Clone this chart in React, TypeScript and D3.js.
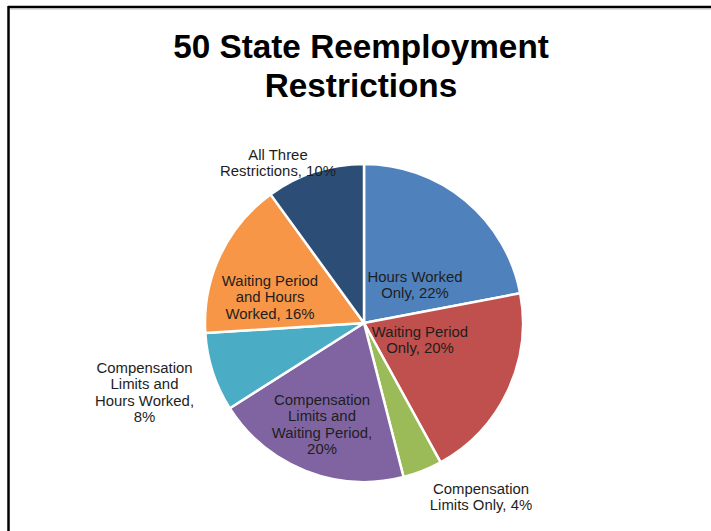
import React from "react";
import * as d3 from "d3";

const categories = [
  ["Hours Worked", "Only, 22%"],
  ["Waiting Period", "Only, 20%"],
  ["Compensation", "Limits Only, 4%"],
  ["Compensation", "Limits and", "Waiting Period,", "20%"],
  ["Compensation", "Limits and", "Hours Worked,", "8%"],
  ["Waiting Period", "and Hours", "Worked, 16%"],
  ["All Three", "Restrictions, 10%"],
];
const values = [22, 20, 4, 20, 8, 16, 10];
const colors = ["#4F81BD", "#C0504D", "#9BBB59", "#8064A2", "#4BACC6", "#F79646", "#2C4D75"];
const titleLines = ["50 State Reemployment", "Restrictions"];

// label anchor offsets relative to pie centre (layout only): [dx, first-baseline dy]
const labelOffsets: [number, number][] = [
  [51, -41],
  [56, 14],
  [117, 171],
  [-42, 82],
  [-219.5, 50],
  [-94, -37],
  [-86, -163],
];

const W = 711;
const H = 531;
const cx = 364;
const cy = 323;
const R = 159;

export default function App() {
  const pie = d3.pie<number>().sort(null).value((d) => d);
  const arcs = pie(values);
  const arc = d3.arc<d3.PieArcDatum<number>>().innerRadius(0).outerRadius(R);
  const lh = 16.3;
  return (
    <svg
      width={W}
      height={H}
      style={{ position: "absolute", left: 0, top: 0, background: "#fff" }}
      fontFamily="'Liberation Sans', Arial, sans-serif"
    >
      <rect x={0} y={0} width={W} height={H} fill="#fff" />
      <line x1={8} y1={7} x2={W} y2={7} stroke="#000" strokeWidth={2.5} />
      <line x1={8.5} y1={6} x2={8.5} y2={H} stroke="#000" strokeWidth={2.5} />
      <line x1={10} y1={9} x2={W} y2={9} stroke="#bbb" strokeWidth={1} />
      <text textAnchor="middle" fontWeight="bold" fontSize={33.3} fill="#000">
        {titleLines.map((t, i) => (
          <tspan key={i} x={361} y={58 + i * 39}>
            {t}
          </tspan>
        ))}
      </text>
      <g transform={`translate(${cx},${cy})`}>
        {arcs.map((a, i) => (
          <path key={i} d={arc(a) || ""} fill={colors[i]} stroke="#fff" strokeWidth={2.5} strokeLinejoin="round" />
        ))}
        {categories.map((lines, i) => (
          <text key={i} textAnchor="middle" fontSize={14.9} fill="#1e1e1e">
            {lines.map((t, j) => (
              <tspan key={j} x={labelOffsets[i][0]} y={labelOffsets[i][1] + j * lh}>
                {t}
              </tspan>
            ))}
          </text>
        ))}
      </g>
    </svg>
  );
}
